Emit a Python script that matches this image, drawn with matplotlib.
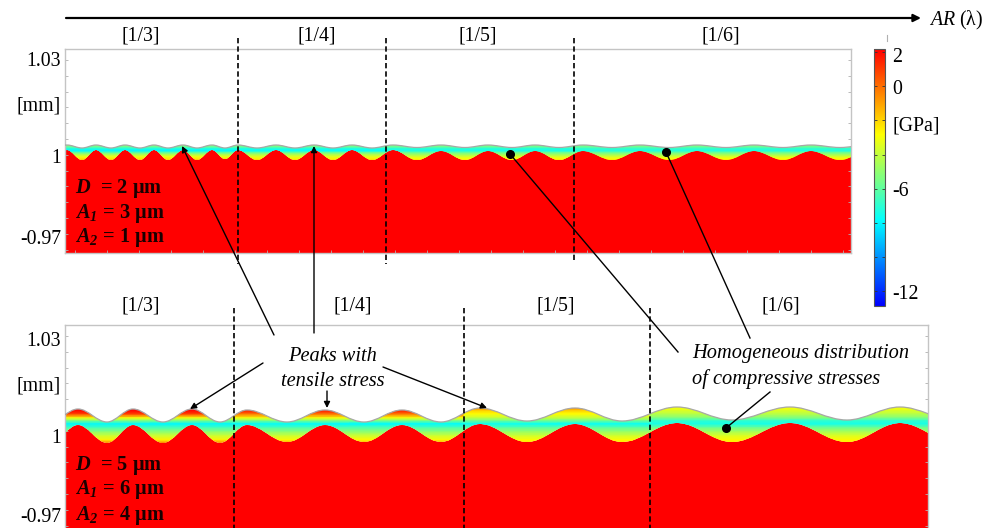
import numpy as np
import matplotlib
matplotlib.use("Agg")
import matplotlib.pyplot as plt
from matplotlib.colors import LinearSegmentedColormap, Normalize
from matplotlib.cm import ScalarMappable
from matplotlib.path import Path
from matplotlib.patches import PathPatch

plt.rcParams['font.family'] = ['Liberation Serif', 'DejaVu Serif']
plt.rcParams['mathtext.fontset'] = 'custom'
plt.rcParams['mathtext.rm'] = 'Liberation Serif'
plt.rcParams['mathtext.it'] = 'Liberation Serif:italic'
plt.rcParams['mathtext.bf'] = 'Liberation Serif:bold'
plt.rcParams['mathtext.bfit'] = 'Liberation Serif:italic:bold'

W, H = 987, 528

section_labels = ['[1/3]', '[1/4]', '[1/5]', '[1/6]']

# top panel
p1_box = (65, 851, 49, 253)
p1_dash = [238, 386, 574]
p1_dash_end = [264, 264, 260]
p1_label_x = [141, 317, 478, 721]
p1_knots = [53, 67, 82, 96, 111, 125, 140, 154, 168, 183, 197, 212, 225, 238,
            257, 276, 295, 314, 333, 352, 372, 393,
            417, 441, 465, 488, 512, 535, 559, 583,
            612, 640, 669, 697, 726, 754, 783, 811, 840, 868]
p1_top = [148, 145, 148, 145, 148, 145, 148, 145, 148, 145, 148, 145, 148, 145,
          148, 145, 148, 145, 148, 145, 148, 145,
          147.5, 145, 147.5, 145, 147.5, 145, 147.5, 145,
          147.5, 145, 147.5, 145, 147.5, 145, 147.5, 145, 147.5, 145]
p1_iface = [160, 150, 160, 150, 160, 150, 160, 150, 160, 150, 160, 150, 159, 150,
            160, 150, 160, 150, 160, 150, 160, 150,
            160, 150.5, 160, 150.5, 160, 150.5, 160, 150.5,
            159.5, 150.5, 159.5, 150.5, 159.5, 150.5, 159.5, 150.5, 159.5, 150.5]
p1_y_nodes = [143, 145, 147, 149, 151, 153, 155, 157, 159, 162]
p1_field = [[-4.3, -4.8, -5.8, -7.4, -8.0, -5.8, -4.3, -3.2, -2.4, -0.5],
            [-4.3, -4.8, -5.8, -7.4, -7.8, -5.6, -4.3, -3.4, -2.6, -1.0],
            [-4.6, -5.0, -5.8, -7.2, -7.4, -5.6, -4.6, -3.6, -2.8, -1.5],
            [-4.6, -5.0, -5.8, -7.0, -7.2, -5.6, -4.6, -3.6, -2.8, -1.5]]

# bottom panel
p2_box = (65, 928, 325, 535)
p2_dash = [234, 464, 650]
p2_dash_end = [528, 528, 528]
p2_label_x = [141, 353, 556, 781]
p2_knots = [50, 78, 107, 133, 163, 192, 220, 247, 287, 325, 364, 402, 441,
            480, 527, 575, 622, 677, 732, 790, 847, 900, 955]
p2_top = [422, 409, 422, 409, 422, 409, 422, 410, 422, 410, 422, 410, 422,
          408, 421, 408, 421, 407, 420, 407, 420, 407, 420]
p2_iface = [443, 425, 443, 425, 443, 425, 443, 425, 442, 425, 442, 425, 442,
            424, 442, 424, 442, 423, 442, 423, 442, 423, 442]
p2_y_nodes = [405, 408, 411, 414, 418, 421, 424, 428, 432, 436, 440, 445]
p2_field = [[2.0, 2.0, 2.0, 1.0, -3.0, -5.6, -8.0, -6.4, -5.0, -3.8, -2.6, 1.0],
            [2.0, 2.0, 1.5, 0.0, -3.0, -5.6, -7.9, -6.2, -5.0, -3.8, -2.7, 0.0],
            [0.5, -0.5, -2.0, -2.8, -4.0, -5.8, -7.7, -5.9, -4.8, -3.7, -2.8, -2.0],
            [-2.8, -3.0, -3.6, -4.2, -5.4, -7.0, -7.4, -5.6, -4.5, -3.5, -2.7, -2.5]]

# colour bar
cb_box = (874, 885, 49, 306)
cb_min, cb_max = -12.9, 2.2
cb_stops = ['#0000ff', '#00ffff', '#ffff00', '#ff0000']
cb_ticks = [2, 0, -2, -4, -6, -8, -10, -12]
cb_labels = ['2', '0', '[GPa]', '-6', '-12']
cb_label_y = [56, 88, 124, 190, 293]

cmap = LinearSegmentedColormap.from_list('stress', cb_stops)
norm = Normalize(cb_min, cb_max)


def add_axes(box):
    x0, x1, y0, y1 = box
    ax = fig.add_axes([x0 / W, 1 - y1 / H, (x1 - x0) / W, (y1 - y0) / H])
    ax.set_xlim(x0, x1)
    ax.set_ylim(y1, y0)
    return ax


def wave(xs, ys, reverse=False):
    # crest/trough knots joined by beziers with flat tangents
    if reverse:
        xs, ys = xs[::-1], ys[::-1]
    verts, codes = [(xs[0], ys[0])], []
    for i in range(len(xs) - 1):
        d = 0.36 * (xs[i + 1] - xs[i])
        verts += [(xs[i] + d, ys[i]), (xs[i + 1] - d, ys[i + 1]), (xs[i + 1], ys[i + 1])]
        codes += [Path.CURVE4] * 3
    return verts, codes


def draw_panel(box, dash, knots, top, iface, y_nodes, field):
    ax = add_axes(box)
    x0, x1, y0, y1 = box

    # substrate below the interface
    v, c = wave(knots, iface)
    v2 = v + [(knots[-1], y1 + 20), (knots[0], y1 + 20), v[0]]
    c2 = [Path.MOVETO] + c + [Path.LINETO, Path.LINETO, Path.CLOSEPOLY]
    ax.add_patch(PathPatch(Path(v2, c2), fc='#ff0000', ec='none', zorder=1))

    # coating band, coloured by the field of each section
    vt, ct = wave(knots, top)
    vb, cb = wave(knots, iface, reverse=True)
    band = Path(vt + [vb[0]] + vb[1:] + [vt[0]],
                [Path.MOVETO] + ct + [Path.LINETO] + cb + [Path.CLOSEPOLY])
    clip = PathPatch(band, fc='none', ec='none', zorder=2)
    ax.add_patch(clip)
    edges = [x0] + dash + [x1]
    for i, col in enumerate(field):
        X, Y = np.meshgrid([edges[i], edges[i + 1]], y_nodes)
        C = np.column_stack([col, col])
        m = ax.pcolormesh(X, Y, C, cmap=cmap, norm=norm, shading='gouraud', zorder=2)
        m.set_clip_path(clip)

    ax.add_patch(PathPatch(Path(vt, [Path.MOVETO] + ct), fc='none', ec='#a8a8a8', lw=0.9, zorder=3))

    for s in ax.spines.values():
        s.set_color('#c4c4c4')
        s.set_linewidth(1.0)
    ax.tick_params(left=True, right=True, bottom=True, top=False, direction='in',
                   length=2, width=0.6, color='#b0b0b0', labelleft=False, labelbottom=False)
    ax.set_xticks(np.arange(x0 + 10, x1, 32))
    ax.set_yticks(np.arange(y0 + 11, y1, 15.8))
    return ax


fig = plt.figure(figsize=(W / 100, H / 100), dpi=100)

ax1 = draw_panel(p1_box, p1_dash, p1_knots, p1_top, p1_iface, p1_y_nodes, p1_field)
ax2 = draw_panel(p2_box, p2_dash, p2_knots, p2_top, p2_iface, p2_y_nodes, p2_field)

# colour bar
x0, x1, y0, y1 = cb_box
cax = fig.add_axes([x0 / W, 1 - y1 / H, (x1 - x0) / W, (y1 - y0) / H])
cb = fig.colorbar(ScalarMappable(norm=norm, cmap=cmap), cax=cax)
cb.set_ticks(cb_ticks)
cb.ax.tick_params(left=True, right=True, direction='in', length=2, width=0.6,
                  labelright=False, color='#333333')
cb.outline.set_edgecolor('#555555')
cb.outline.set_linewidth(0.8)

# overlay in picture pixels for text, dashes and arrows
ov = fig.add_axes([0, 0, 1, 1], facecolor='none')
ov.set_xlim(0, W)
ov.set_ylim(H, 0)
ov.axis('off')

FS = 14.3
FI = 14.7
DY = 1.5

ov.annotate('', xy=(921, 18), xytext=(66, 18),
            arrowprops=dict(arrowstyle='-|>', color='black', lw=1.6, mutation_scale=11,
                            shrinkA=0, shrinkB=0))
ov.text(929, 19 + DY, r'$\mathit{AR}$ (λ)', fontsize=FS, ha='left', va='center')
ov.plot([887, 887], [35, 41], color='#b0b0b0', lw=0.8)

for x, s in zip(p1_label_x, section_labels):
    ov.text(x, 35 + DY, s, fontsize=FS, ha='center', va='center')
for x, s in zip(p2_label_x, section_labels):
    ov.text(x, 304 + DY, s, fontsize=FS, ha='center', va='center')

for x, end in zip(p1_dash, p1_dash_end):
    ov.plot([x, x], [38, end], color='black', lw=1.2, ls=(0, (3.2, 1.8)))
for x, end in zip(p2_dash, p2_dash_end):
    ov.plot([x, x], [308, end], color='black', lw=1.2, ls=(0, (3.2, 1.8)))

for y, s in zip([60, 105, 157, 238], ['1.03', '[mm]', '1', '-0.97']):
    ov.text(61, y + DY, s, fontsize=FS, ha='right', va='center')
for y, s in zip([340, 384, 437, 516], ['1.03', '[mm]', '1', '-0.97']):
    ov.text(61, y + DY, s, fontsize=FS, ha='right', va='center')

for y, s in zip(cb_label_y, cb_labels):
    ov.text(892, y + DY, s, fontsize=FS, ha='left', va='center')

geom1 = [r'$\mathbfit{D}$  = 2 μm', r'$\mathbfit{A}_{\mathbfit{1}}$ = 3 μm', r'$\mathbfit{A}_{\mathbfit{2}}$ = 1 μm']
geom2 = [r'$\mathbfit{D}$  = 5 μm', r'$\mathbfit{A}_{\mathbfit{1}}$ = 6 μm', r'$\mathbfit{A}_{\mathbfit{2}}$ = 4 μm']
for y, s in zip([187, 212, 236], geom1):
    ov.text(75, y + DY, s, fontsize=FI, fontweight='bold', ha='left', va='center', color='#1a0000')
for y, s in zip([464, 488, 514], geom2):
    ov.text(75, y + DY, s, fontsize=FI, fontweight='bold', ha='left', va='center', color='#1a0000')

ov.text(333, 355 + DY, 'Peaks with', fontsize=FI, style='italic', ha='center', va='center')
ov.text(333, 380 + DY, 'tensile stress', fontsize=FI, style='italic', ha='center', va='center')
ov.text(692, 352 + DY, 'Homogeneous distribution', fontsize=FI, style='italic', ha='left', va='center')
ov.text(692, 378 + DY, 'of compressive stresses', fontsize=FI, style='italic', ha='left', va='center')

# arrows to the peaks
arrow_starts = [(274, 335), (314, 333), (263, 363), (327, 391), (383, 367)]
arrow_tips = [(182, 146), (314, 146), (190, 409), (327, 408), (487, 408)]
for a, b in zip(arrow_starts, arrow_tips):
    ov.annotate('', xy=b, xytext=a,
                arrowprops=dict(arrowstyle='-|>', color='black', lw=1.0, mutation_scale=9,
                                shrinkA=0, shrinkB=0))

# leader lines ending in dots
dot_starts = [(678, 352), (750, 338), (770, 392)]
dot_tips = [(510, 154), (666, 152), (726, 428)]
for a, b in zip(dot_starts, dot_tips):
    ov.plot([a[0], b[0]], [a[1], b[1]], color='black', lw=1.0)
    ov.plot(b[0], b[1], 'o', color='black', ms=5.5)

fig.savefig('out.png', dpi=100)
